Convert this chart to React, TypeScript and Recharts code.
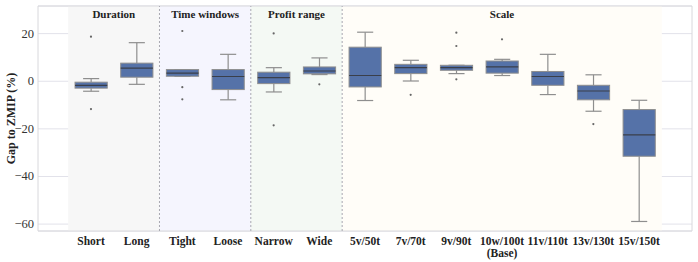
import { ComposedChart, Bar, Scatter, XAxis, YAxis, CartesianGrid, ReferenceArea, ReferenceLine } from "recharts";

const categories = ["Short", "Long", "Tight", "Loose", "Narrow", "Wide", "5v/50t", "7v/70t", "9v/90t", "10w/100t\n(Base)", "11v/110t", "13v/130t", "15v/150t"];
const whiskerLow = [-4.2, -1.3, 2.1, -7.8, -4.5, 2.8, -8.1, 0.1, 3.2, 2.4, -5.6, -12.6, -58.9];
const q1 = [-2.9, 1.7, 2.1, -3.5, -1.0, 3.1, -2.4, 3.2, 4.6, 3.4, -1.7, -7.8, -31.5];
const median = [-1.7, 5.5, 3.4, 2.0, 1.5, 4.3, 2.4, 5.7, 5.7, 6.0, 2.0, -4.1, -22.5];
const q3 = [-0.4, 7.6, 4.9, 4.9, 3.8, 6.0, 14.3, 7.1, 6.7, 8.5, 4.1, -1.7, -11.9];
const whiskerHigh = [1.1, 16.2, 4.9, 11.3, 5.7, 9.8, 20.6, 8.8, 6.7, 9.2, 11.3, 2.7, -8.0];

// [category index, value]
const outliers: [number, number][] = [
  [0, 18.7], [0, -11.7],
  [2, 21.1], [2, -2.5], [2, -7.6],
  [4, 20.1], [4, -18.5],
  [5, -1.3],
  [7, -5.7],
  [8, 20.4], [8, 14.8], [8, 0.8],
  [9, 17.6],
  [11, -18.0],
];

const groups = [
  { name: "Duration", from: -0.5, to: 1.5, color: "#f7f7f7" },
  { name: "Time windows", from: 1.5, to: 3.5, color: "#f5f5fe" },
  { name: "Profit range", from: 3.5, to: 5.5, color: "#f4f9f4" },
  { name: "Scale", from: 5.5, to: 12.5, color: "#fffdf8" },
];

const yTicks = [20, 0, -20, -40, -60];

const boxData = categories.map((c, i) => ({
  idx: i,
  range: [whiskerLow[i], whiskerHigh[i]],
  lo: whiskerLow[i],
  hi: whiskerHigh[i],
  q1: q1[i],
  med: median[i],
  q3: q3[i],
}));

const outlierData = outliers.map(([i, v]) => ({ idx: i, v }));

const FONT = "'Liberation Serif', 'Times New Roman', serif";
const LINE = "#8e8e8e";

const BoxShape = (props: any) => {
  const { x, y, width, height, payload } = props;
  const top = Math.min(y, y + height);
  const bottom = Math.max(y, y + height);
  const span = payload.hi - payload.lo;
  const px = (v: number) => bottom - ((v - payload.lo) / span) * (bottom - top);
  const cx = x + width / 2;
  const bw = width * 0.7;
  const cw = bw / 2;
  const yq1 = px(payload.q1);
  const yq3 = px(payload.q3);
  const ym = px(payload.med);
  return (
    <g>
      <line x1={cx} x2={cx} y1={px(payload.hi)} y2={yq3} stroke={LINE} strokeWidth={1.2} />
      <line x1={cx} x2={cx} y1={yq1} y2={px(payload.lo)} stroke={LINE} strokeWidth={1.2} />
      <line x1={cx - cw / 2} x2={cx + cw / 2} y1={px(payload.hi)} y2={px(payload.hi)} stroke={LINE} strokeWidth={1.2} />
      <line x1={cx - cw / 2} x2={cx + cw / 2} y1={px(payload.lo)} y2={px(payload.lo)} stroke={LINE} strokeWidth={1.2} />
      <rect x={cx - bw / 2} y={yq3} width={bw} height={Math.max(yq1 - yq3, 0.5)} fill="#5572a8" stroke={LINE} strokeWidth={1} />
      <line x1={cx - bw / 2} x2={cx + bw / 2} y1={ym} y2={ym} stroke="#3a3f4a" strokeWidth={1.2} />
    </g>
  );
};

const XTick = (props: any) => {
  const { x, y, payload } = props;
  const lines = String(categories[payload.value] ?? "").split("\n");
  return (
    <text x={x} y={y} textAnchor="middle" fontFamily={FONT} fontWeight="bold" fontSize={11.5} fill="#222">
      {lines.map((l, k) => (
        <tspan key={k} x={x} dy={12}>{l}</tspan>
      ))}
    </text>
  );
};

const fmtY = (v: number) => (v < 0 ? "\u2212" + Math.abs(v) : String(v));

const YTick = (props: any) => {
  const { x, y, payload } = props;
  return (
    <text x={x} y={y} textAnchor="end" dominantBaseline="central" fontFamily={FONT} fontSize={12.5} fill="#333">
      {fmtY(payload.value)}
    </text>
  );
};

export default function App() {
  return (
    <div style={{ position: "absolute", left: 0, top: 0 }}>
      <ComposedChart
        width={698}
        height={262}
        data={boxData}
        margin={{ top: 6, right: 6, bottom: 0, left: 0 }}
        barCategoryGap={0}
        barGap={0}
      >
        {groups.map((g) => (
          <ReferenceArea
            key={g.name}
            x1={g.from}
            x2={g.to}
            fill={g.color}
            fillOpacity={1}
            stroke="none"
            label={{ value: g.name, position: "insideTop", offset: 4, fill: "#222", fontFamily: FONT, fontWeight: "bold", fontSize: 11 }}
          />
        ))}
        <CartesianGrid vertical={false} stroke="#e2e2ea" strokeWidth={1} />
        <XAxis
          type="number"
          dataKey="idx"
          domain={[-1.16, 13.16]}
          ticks={categories.map((_, i) => i)}
          interval={0}
          axisLine={false}
          tickLine={false}
          tickSize={0}
          height={31}
          tick={<XTick />}
          allowDataOverflow
        />
        <YAxis
          type="number"
          domain={[-62.9, 31.6]}
          ticks={yTicks}
          axisLine={false}
          tickLine={false}
          tickSize={0}
          tickMargin={4}
          width={38}
          allowDataOverflow
          tick={<YTick />}
          label={() => (
            <text transform="translate(11,118.5) rotate(-90)" textAnchor="middle" dominantBaseline="central" fontFamily={FONT} fontWeight="bold" fontSize={12}>
              <tspan fill="#222">Gap to ZMIP (%)</tspan>
            </text>
          )}
        />
        {[1.5, 3.5, 5.5].map((d) => (
          <ReferenceLine key={d} x={d} stroke="#a8a8b0" strokeDasharray="2 2" strokeWidth={1} />
        ))}
        <ReferenceArea x1={-1.16} x2={13.16} y1={-62.9} y2={31.6} fill="none" stroke="#d8d8dc" strokeWidth={1} ifOverflow="visible" />
        <Bar dataKey="range" shape={<BoxShape />} isAnimationActive={false} />
        <Scatter data={outlierData} dataKey="v" isAnimationActive={false} shape={(p: any) => <circle cx={p.cx} cy={p.cy} r={1.1} fill="#666" />} />
      </ComposedChart>
    </div>
  );
}
